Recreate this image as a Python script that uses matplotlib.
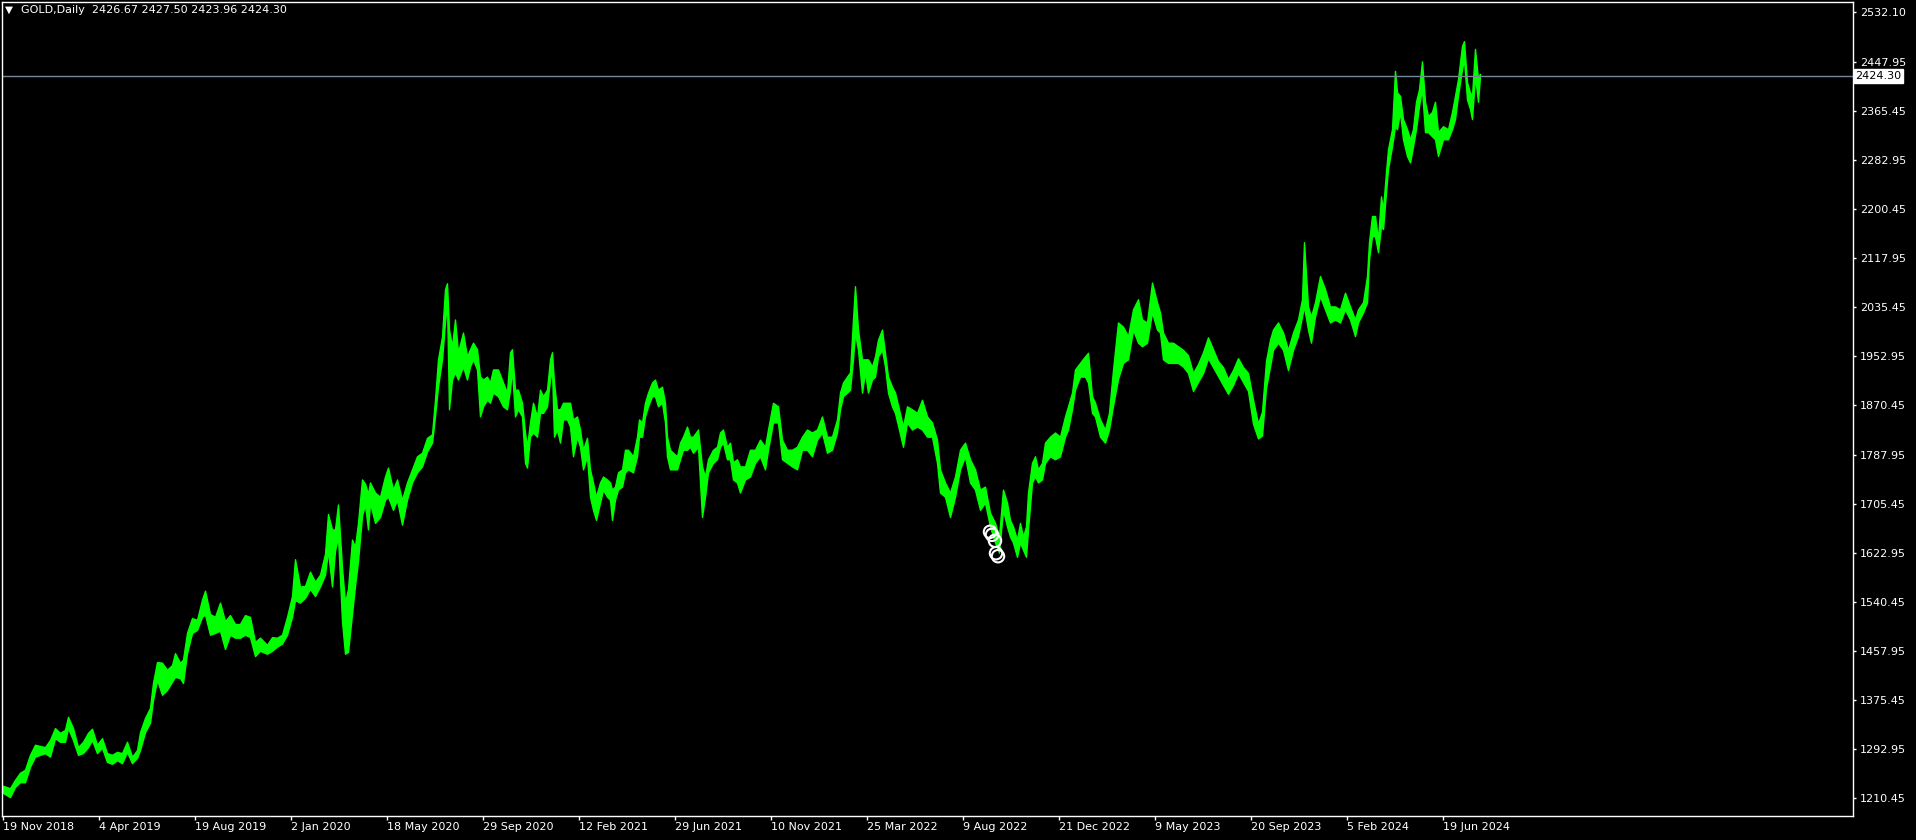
import matplotlib
matplotlib.use("Agg")
import matplotlib.pyplot as plt
import matplotlib.transforms as mtransforms

# chart header: symbol and last bar O/H/L/C
symbol = "GOLD,Daily"
last_ohlc = [2426.67, 2427.50, 2423.96, 2424.30]

# bar number (1 bar per day since 19 Nov 2018), with the high/low envelope
bar_idx = [0, 7, 12, 17, 22, 27, 32, 37, 42, 47, 52, 57, 62, 65, 70, 75, 80, 85, 89, 94,
           99, 104, 109, 114, 119, 124, 129, 134, 137, 142, 147, 150, 154, 159, 164, 169, 172, 177, 180, 184,
           189, 194, 199, 202, 207, 212, 217, 222, 227, 232, 237, 242, 247, 252, 257, 264, 269, 274, 279, 284,
           289, 292, 297, 302, 307, 312, 317, 322, 325, 329, 332, 335, 339, 342, 345, 349, 352, 355, 359, 362,
           365, 367, 372, 377, 382, 385, 390, 394, 399, 404, 409, 414, 419, 424, 429, 432, 435, 439, 442, 444,
           446, 449, 452, 455, 460, 464, 467, 470, 474, 477, 480, 484, 487, 490, 495, 500, 504, 507, 509, 512,
           515, 519, 522, 524, 527, 530, 534, 537, 540, 544, 547, 549, 551, 554, 557, 560, 564, 567, 570, 574,
           577, 580, 584, 587, 590, 593, 597, 600, 604, 607, 609, 612, 615, 619, 622, 625, 630, 634, 636, 639,
           642, 645, 649, 652, 655, 659, 662, 664, 667, 670, 674, 677, 680, 684, 687, 690, 695, 699, 702, 705,
           710, 714, 717, 720, 724, 727, 730, 734, 737, 742, 747, 752, 757, 762, 765, 770, 775, 779, 784, 789,
           794, 799, 804, 809, 814, 819, 824, 829, 834, 837, 840, 844, 847, 850, 852, 855, 859, 862, 865, 869,
           872, 875, 879, 882, 885, 889, 892, 896, 900, 904, 909, 914, 919, 924, 929, 934, 937, 942, 947, 952,
           957, 962, 967, 972, 977, 982, 987, 992, 996, 1000, 1004, 1007, 1010, 1014, 1017, 1020, 1023, 1025, 1029, 1032,
           1035, 1039, 1042, 1047, 1052, 1057, 1062, 1065, 1069, 1072, 1077, 1082, 1085, 1089, 1092, 1097, 1102, 1106, 1110, 1115,
           1120, 1125, 1130, 1135, 1139, 1144, 1149, 1154, 1157, 1160, 1165, 1170, 1175, 1180, 1185, 1190, 1195, 1200, 1205, 1210,
           1215, 1220, 1225, 1230, 1235, 1240, 1245, 1250, 1255, 1259, 1263, 1267, 1270, 1275, 1280, 1285, 1290, 1295, 1299, 1301,
           1305, 1308, 1312, 1317, 1322, 1327, 1332, 1337, 1342, 1347, 1352, 1355, 1360, 1364, 1366, 1369, 1372, 1375, 1378, 1380,
           1383, 1385, 1389, 1392, 1394, 1397, 1400, 1404, 1407, 1410, 1413, 1416, 1419, 1422, 1425, 1429, 1432, 1435, 1440, 1445,
           1449, 1452, 1455, 1459, 1461, 1464, 1467, 1469, 1472, 1475, 1477]

high = [1231, 1227, 1241, 1253, 1258, 1283, 1300, 1298, 1296, 1308, 1328, 1320, 1325, 1347, 1328, 1296, 1305, 1320, 1327, 1300,
        1311, 1286, 1283, 1288, 1286, 1305, 1280, 1291, 1321, 1345, 1362, 1404, 1439, 1438, 1426, 1434, 1454, 1438, 1443, 1488,
        1513, 1510, 1544, 1559, 1520, 1515, 1539, 1508, 1518, 1503, 1503, 1518, 1515, 1473, 1480, 1468, 1481, 1480, 1485, 1515,
        1550, 1612, 1566, 1567, 1591, 1574, 1586, 1621, 1688, 1662, 1662, 1704, 1598, 1539, 1562, 1645, 1633, 1673, 1746, 1739,
        1722, 1741, 1724, 1717, 1751, 1766, 1729, 1746, 1712, 1741, 1763, 1785, 1791, 1816, 1822, 1880, 1948, 1986, 2066, 2076,
        1998, 1970, 2015, 1960, 1993, 1953, 1965, 1976, 1965, 1919, 1914, 1919, 1909, 1931, 1931, 1909, 1892, 1960, 1965, 1897,
        1897, 1875, 1825, 1801, 1842, 1875, 1852, 1897, 1886, 1897, 1948, 1960, 1909, 1864, 1864, 1875, 1875, 1875, 1847, 1852,
        1830, 1796, 1816, 1763, 1741, 1717, 1741, 1751, 1746, 1741, 1729, 1734, 1758, 1763, 1796, 1796, 1785, 1818, 1847, 1842,
        1875, 1892, 1909, 1914, 1897, 1902, 1875, 1818, 1796, 1791, 1785, 1808, 1818, 1835, 1818, 1818, 1830, 1768, 1751, 1780,
        1796, 1801, 1825, 1830, 1801, 1808, 1775, 1780, 1768, 1768, 1796, 1796, 1813, 1801, 1830, 1875, 1869, 1813, 1796, 1796,
        1801, 1818, 1830, 1825, 1830, 1852, 1818, 1818, 1847, 1892, 1909, 1919, 1926, 2015, 2071, 1998, 1948, 1948, 1948, 1936,
        1953, 1981, 1998, 1959, 1919, 1902, 1892, 1864, 1835, 1869, 1864, 1858, 1880, 1852, 1842, 1813, 1763, 1741, 1724, 1751,
        1796, 1808, 1780, 1763, 1729, 1734, 1690, 1673, 1650, 1729, 1707, 1678, 1667, 1645, 1673, 1650, 1667, 1724, 1774, 1785,
        1763, 1774, 1808, 1818, 1825, 1818, 1852, 1869, 1892, 1931, 1942, 1953, 1959, 1886, 1875, 1847, 1830, 1858, 1930, 2010,
        2003, 1987, 2032, 2049, 2015, 2010, 2077, 2044, 2027, 1993, 1976, 1976, 1970, 1964, 1955, 1925, 1940, 1960, 1985, 1965,
        1945, 1935, 1915, 1930, 1950, 1935, 1925, 1880, 1840, 1860, 1945, 1981, 1998, 2010, 1993, 1964, 1993, 2015, 2049, 2145,
        2037, 2020, 2044, 2088, 2066, 2037, 2037, 2032, 2060, 2037, 2015, 2032, 2044, 2088, 2145, 2189, 2189, 2150, 2222, 2200,
        2263, 2301, 2335, 2433, 2397, 2391, 2352, 2335, 2318, 2335, 2381, 2402, 2449, 2381, 2357, 2364, 2381, 2330, 2340, 2335,
        2364, 2391, 2419, 2475, 2483, 2414, 2397, 2391, 2470, 2419, 2428]

low = [1219, 1212, 1229, 1237, 1237, 1263, 1280, 1283, 1286, 1280, 1311, 1305, 1305, 1328, 1308, 1283, 1286, 1296, 1308, 1286,
       1295, 1271, 1268, 1274, 1269, 1288, 1269, 1278, 1291, 1321, 1337, 1375, 1409, 1384, 1392, 1406, 1414, 1412, 1404, 1454,
       1488, 1493, 1515, 1519, 1485, 1488, 1492, 1461, 1485, 1480, 1480, 1485, 1481, 1449, 1458, 1453, 1458, 1465, 1470, 1485,
       1515, 1543, 1539, 1547, 1562, 1550, 1566, 1586, 1626, 1566, 1626, 1650, 1508, 1453, 1456, 1520, 1567, 1609, 1685, 1704,
       1662, 1707, 1673, 1683, 1712, 1717, 1695, 1712, 1670, 1712, 1741, 1758, 1768, 1793, 1808, 1852, 1902, 1948, 2010, 2044,
       1864, 1914, 1926, 1914, 1936, 1914, 1936, 1948, 1931, 1852, 1869, 1880, 1875, 1892, 1886, 1869, 1864, 1897, 1931, 1852,
       1864, 1852, 1774, 1766, 1818, 1825, 1818, 1858, 1858, 1869, 1914, 1931, 1818, 1830, 1808, 1847, 1847, 1835, 1785, 1818,
       1801, 1763, 1785, 1717, 1695, 1678, 1707, 1729, 1717, 1712, 1678, 1712, 1729, 1734, 1758, 1763, 1758, 1785, 1818, 1818,
       1852, 1869, 1886, 1886, 1869, 1875, 1842, 1785, 1763, 1763, 1763, 1780, 1796, 1796, 1801, 1791, 1801, 1683, 1717, 1758,
       1774, 1780, 1801, 1808, 1780, 1780, 1746, 1741, 1724, 1746, 1751, 1774, 1785, 1763, 1796, 1842, 1842, 1780, 1774, 1768,
       1763, 1796, 1796, 1785, 1813, 1825, 1791, 1796, 1825, 1864, 1886, 1892, 1897, 1948, 1993, 1964, 1892, 1926, 1892, 1914,
       1919, 1953, 1964, 1936, 1892, 1869, 1858, 1830, 1801, 1842, 1830, 1835, 1830, 1818, 1818, 1774, 1724, 1717, 1683, 1717,
       1763, 1785, 1741, 1729, 1695, 1707, 1667, 1640, 1623, 1695, 1667, 1650, 1640, 1616, 1640, 1628, 1616, 1662, 1741, 1751,
       1741, 1746, 1774, 1785, 1780, 1785, 1818, 1830, 1864, 1897, 1919, 1919, 1909, 1858, 1852, 1818, 1808, 1830, 1870, 1915,
       1942, 1948, 1998, 1976, 1970, 1976, 2027, 1998, 1993, 1948, 1942, 1942, 1942, 1936, 1925, 1895, 1910, 1925, 1950, 1935,
       1920, 1905, 1890, 1905, 1925, 1910, 1895, 1840, 1815, 1820, 1900, 1936, 1964, 1976, 1964, 1930, 1964, 1987, 2020, 2037,
       1998, 1976, 2020, 2054, 2032, 2010, 2015, 2010, 2032, 2015, 1987, 2010, 2027, 2044, 2116, 2155, 2155, 2128, 2172, 2167,
       2229, 2268, 2306, 2340, 2335, 2364, 2318, 2290, 2279, 2306, 2335, 2374, 2402, 2330, 2330, 2323, 2318, 2290, 2318, 2318,
       2335, 2352, 2391, 2436, 2452, 2385, 2369, 2352, 2424, 2381, 2424]

# time axis labels (one every 96 bars)
date_bars = [0, 96, 192, 288, 384, 480, 576, 672, 768, 864, 960, 1056, 1152, 1248, 1344, 1440]
date_labels = ["19 Nov 2018", "4 Apr 2019", "19 Aug 2019", "2 Jan 2020", "18 May 2020", "29 Sep 2020",
               "12 Feb 2021", "29 Jun 2021", "10 Nov 2021", "25 Mar 2022", "9 Aug 2022", "21 Dec 2022",
               "9 May 2023", "20 Sep 2023", "5 Feb 2024", "19 Jun 2024"]

price_ticks = [1210.45, 1292.95, 1375.45, 1457.95, 1540.45, 1622.95, 1705.45, 1787.95, 1870.45,
               1952.95, 2035.45, 2117.95, 2200.45, 2282.95, 2365.45, 2447.95, 2532.10]

# trade markers (hollow circles)
circle_bars = [987, 989, 992, 993, 995]
circle_prices = [1658, 1653, 1643, 1622, 1617]

green = "#00ff00"
W, H = 1916, 840

fig = plt.figure(figsize=(W / 100, H / 100), dpi=100, facecolor="black")
ax = fig.add_axes([2 / W, 24 / H, 1851 / W, 814 / H])
ax.set_facecolor("black")

ax.fill_between(bar_idx, low, high, color=green, lw=1.0, edgecolor=green)

last_close = last_ohlc[3]
ax.axhline(last_close, color="#778899", lw=1.0, zorder=1)

ax.scatter(circle_bars, circle_prices, s=80, facecolors="none", edgecolors="white", linewidths=1.5, zorder=5)

ax.set_xlim(-1, 1850)
ax.set_ylim(1180.2, 2548.8)

ax.yaxis.tick_right()
ax.set_yticks(price_ticks)
ax.set_yticklabels([f"{p:.2f}" for p in price_ticks])
ax.set_xticks(date_bars)
ax.set_xticklabels(date_labels, ha="left")
ax.tick_params(axis="y", colors="white", length=2.5, width=1, pad=2.5, labelsize=8)
ax.tick_params(axis="x", colors="white", length=3, width=1, pad=1.5, labelsize=8)
for sp in ax.spines.values():
    sp.set_color("white")
    sp.set_linewidth(1.0)

# last price tag on the price scale
trans = mtransforms.blended_transform_factory(ax.transAxes, ax.transData)
ax.text(1.0012, last_close, f"{last_close:.2f}", transform=trans, ha="left", va="center",
        fontsize=8, color="black", clip_on=False, zorder=6,
        bbox=dict(boxstyle="square,pad=0.15", facecolor="white", edgecolor="white"))

# header
fig.text(5 / W, 1 - 10 / H, "\u25bc", color="white", fontsize=7.5, ha="left", va="center")
header = symbol + "  " + " ".join(f"{v:.2f}" for v in last_ohlc)
fig.text(21 / W, 1 - 10 / H, header, color="white", fontsize=8, ha="left", va="center")

fig.savefig("out.png", dpi=100, facecolor="black")
